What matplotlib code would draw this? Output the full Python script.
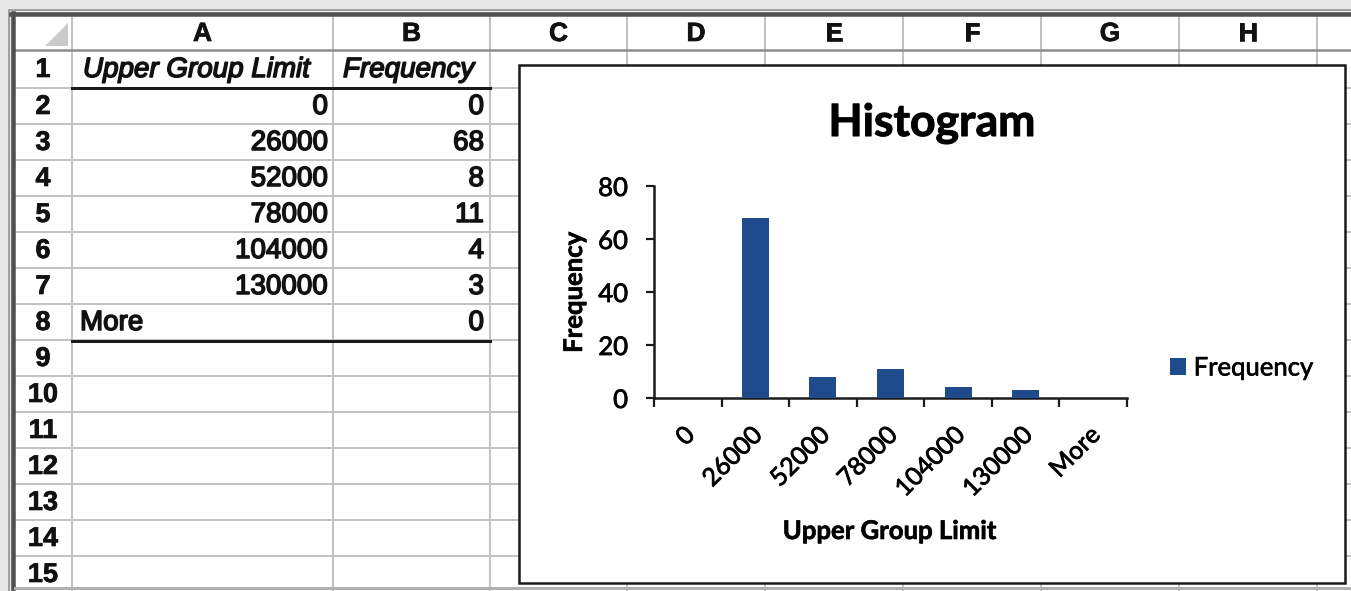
import matplotlib
matplotlib.use('Agg')
import matplotlib.pyplot as plt
from matplotlib.patches import Rectangle, Polygon
from matplotlib.transforms import ScaledTranslation
from matplotlib.ticker import FixedLocator
import matplotlib.patheffects as pe

# ---------------- data ----------------
upper_limits = ['0', '26000', '52000', '78000', '104000', '130000', 'More']
frequency = [0, 68, 8, 11, 4, 3, 0]
table_header = ['Upper Group Limit', 'Frequency']
col_letters = ['A', 'B', 'C', 'D', 'E', 'F', 'G', 'H']
row_numbers = list(range(1, 16))
chart_title = 'Histogram'
x_label = 'Upper Group Limit'
y_label = 'Frequency'
y_ticks = [0, 20, 40, 60, 80]

# ---------------- layout ----------------
W, H = 1351, 591
DPI = 100


def pt(v):
    """pixels -> points"""
    return v * 72.0 / DPI


def heavy(w=0.9, c='#111111'):
    return [pe.withStroke(linewidth=w, foreground=c)]


fig = plt.figure(figsize=(W / DPI, H / DPI), dpi=DPI, facecolor='#e7e7e7')
bg = fig.add_axes([0, 0, 1, 1])
bg.set_xlim(0, W)
bg.set_ylim(H, 0)
bg.axis('off')

SHEET_FONT = 'Liberation Sans'
CHART_FONT = 'Lato'

# sheet area
bg.add_patch(Rectangle((12, 13), W, H, facecolor='white', edgecolor='none', zorder=0))
col_edges = [72, 333, 490, 627, 765, 903, 1041, 1179, 1317]
row_edges = [50, 88, 124, 160, 196, 232, 268, 304, 340, 376, 412, 448, 484, 520, 556, 592]
grid = '#c2c2c2'
for x in col_edges:
    bg.plot([x, x], [15, H], color=grid, lw=pt(2), zorder=1, solid_capstyle='butt')
for y in row_edges[1:]:
    bg.plot([15, W], [y, y], color=grid, lw=pt(2), zorder=1, solid_capstyle='butt')
bg.plot([15, W], [50, 50], color='#8c8c8c', lw=pt(2.5), zorder=1.1)

# corner triangle
bg.add_patch(Polygon([(45, 46), (68, 46), (68, 23)], closed=True,
                     facecolor='#cacaca', edgecolor='none', zorder=2))

# outer frame
bg.plot([9, 9], [10, H], color='#a0a0a0', lw=pt(2), zorder=2)
bg.plot([13, 13], [13, H], color='#505050', lw=pt(4.5), zorder=2)
bg.plot([9, W], [10, 10], color='#a0a0a0', lw=pt(2), zorder=2)
bg.plot([11, W], [13.5, 13.5], color='#505050', lw=pt(4.5), zorder=2)
bg.plot([15, W], [588, 588], color='#b0b0b0', lw=pt(3), zorder=2)

# column letters
for i, letter in enumerate(col_letters):
    xc = (col_edges[i] + col_edges[i + 1]) / 2
    bg.text(xc, 34, letter, ha='center', va='center', fontsize=19,
            fontweight='bold', family=SHEET_FONT, color='#111111', zorder=3,
            path_effects=heavy(0.5))

# row numbers
for k, n in enumerate(row_numbers):
    yc = (row_edges[k] + row_edges[k + 1]) / 2 + 1
    bg.text(43, yc, str(n), ha='center', va='center', fontsize=19.5,
            fontweight='bold', family=SHEET_FONT, color='#111111', zorder=3,
            path_effects=heavy(0.5))


def row_center(r):
    return (row_edges[r - 1] + row_edges[r]) / 2 + 1


cell_kw = dict(va='center', fontsize=20, family=SHEET_FONT, color='#111111', zorder=3,
               path_effects=heavy(1.1))

# header row
bg.text(83, row_center(1), table_header[0], ha='left', style='italic', **cell_kw)
bg.text(343, row_center(1), table_header[1], ha='left', style='italic', **cell_kw)

# table values
for i, (lim, f) in enumerate(zip(upper_limits, frequency)):
    r = i + 2
    if lim.isdigit():
        bg.text(328, row_center(r), lim, ha='right', **cell_kw)
    else:
        bg.text(80, row_center(r), lim, ha='left', **cell_kw)
    bg.text(484, row_center(r), str(f), ha='right', **cell_kw)

# thick borders under header and last row
bg.plot([72, 490], [88, 88], color='#1a1a1a', lw=pt(3), zorder=2.5)
bg.plot([72, 490], [341, 341], color='#1a1a1a', lw=pt(3), zorder=2.5)

# chart box
bg.add_patch(Rectangle((519, 65), 826, 518, facecolor='white', edgecolor='#1a1a1a',
                       lw=pt(2.5), zorder=4))

# ---------------- chart ----------------
ax_left, ax_right, ax_top, ax_bottom = 654, 1127, 186, 398
ax = fig.add_axes([ax_left / W, 1 - ax_bottom / H, (ax_right - ax_left) / W,
                   (ax_bottom - ax_top) / H])
ax.set_zorder(5)
ax.patch.set_alpha(0)

pos = list(range(len(upper_limits)))
bars = ax.bar(pos, frequency, width=0.4, color='#1f4a8b', label=y_label, zorder=3)
ax.set_xlim(-0.5, len(upper_limits) - 0.5)
ax.set_ylim(0, 80)

for s in ['top', 'right']:
    ax.spines[s].set_visible(False)
for s in ['left', 'bottom']:
    ax.spines[s].set_linewidth(pt(2.5))
    ax.spines[s].set_color('#1a1a1a')

ax.set_yticks(y_ticks)
ax.set_yticklabels([str(v) for v in y_ticks], family=CHART_FONT, fontsize=18.5)
ax.tick_params(axis='y', direction='out', length=pt(8), width=pt(2.2), pad=pt(18),
               color='#1a1a1a')

ax.set_xticks(pos)
ax.set_xticklabels(upper_limits, rotation=45, ha='right', va='center',
                   rotation_mode='anchor', family=CHART_FONT, fontsize=18)
ax.xaxis.set_minor_locator(FixedLocator([p - 0.5 for p in pos] + [pos[-1] + 0.5]))
ax.tick_params(axis='x', which='major', length=0, pad=pt(33))
ax.tick_params(axis='x', which='minor', direction='out', length=pt(9), width=pt(2.2),
               color='#1a1a1a')
shift = ScaledTranslation(3 / DPI, 0, fig.dpi_scale_trans)
for lab in ax.get_xticklabels():
    lab.set_transform(lab.get_transform() + shift)
    lab.set_path_effects(heavy(0.6))
for lab in ax.get_yticklabels():
    lab.set_path_effects(heavy(0.6))

ax.set_xlabel(x_label, family=CHART_FONT, fontsize=18.5, fontweight='bold')
ax.xaxis.set_label_coords((890 - ax_left) / (ax_right - ax_left),
                          (ax_bottom - 519) / (ax_bottom - ax_top))
ax.xaxis.label.set_va('top')
ax.xaxis.label.set_path_effects(heavy(0.5))
ax.set_ylabel(y_label, family=CHART_FONT, fontsize=18.5, fontweight='bold')
ax.yaxis.set_label_coords((586 - ax_left) / (ax_right - ax_left), 0.5)
ax.yaxis.label.set_path_effects(heavy(0.5))

ax.set_title(chart_title, family=CHART_FONT, fontsize=32, fontweight='bold',
             x=(932 - ax_left) / (ax_right - ax_left), pad=pt(ax_top - 136),
             path_effects=heavy(0.8))

leg = ax.legend(loc='center left', bbox_to_anchor=(1170 / W, 1 - 368 / H),
                bbox_transform=fig.transFigure, frameon=False,
                prop={'family': CHART_FONT, 'size': 18.5},
                handlelength=0.62, handleheight=0.62, handletextpad=0.3,
                borderpad=0, borderaxespad=0)
for t in leg.get_texts():
    t.set_path_effects(heavy(0.5))

fig.savefig('out.png', dpi=DPI, facecolor=fig.get_facecolor())
